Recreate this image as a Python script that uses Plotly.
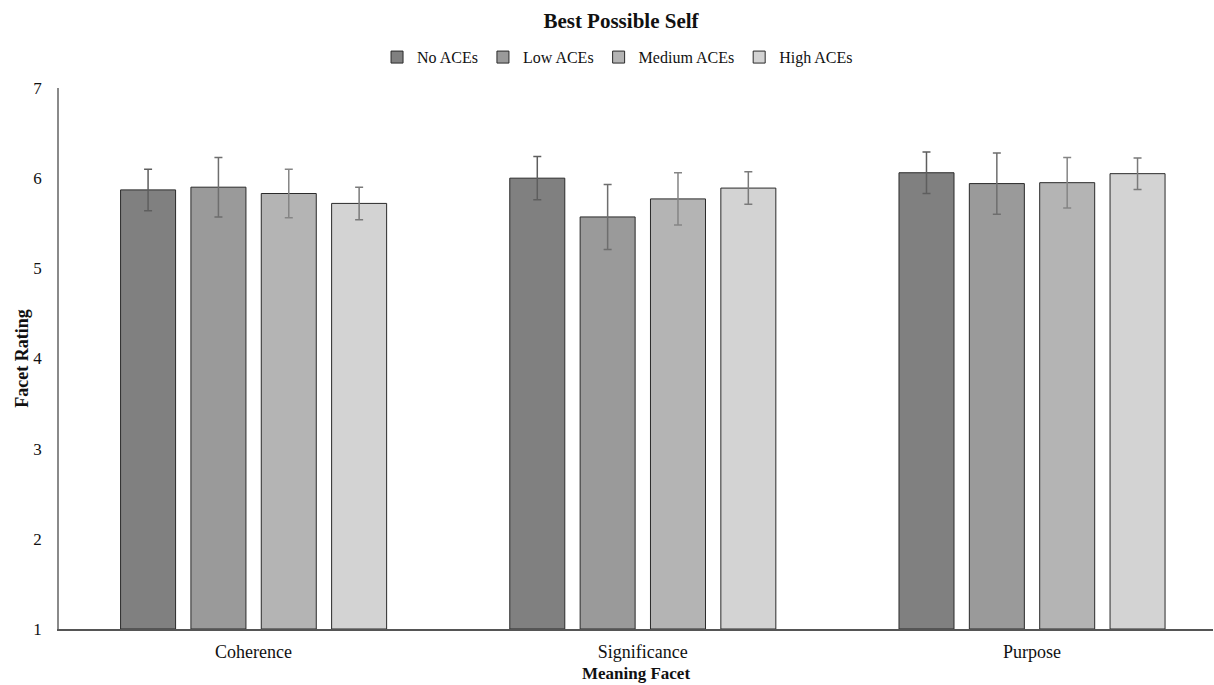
import plotly.graph_objects as go

# Meaning facets on the x axis
facets = ["Coherence", "Significance", "Purpose"]

# Mean facet ratings per ACE group
no_aces = [5.87, 6.00, 6.06]
low_aces = [5.90, 5.57, 5.94]
medium_aces = [5.83, 5.77, 5.95]
high_aces = [5.72, 5.89, 6.05]

# Error bar half-widths per ACE group
no_err = [0.23, 0.24, 0.23]
low_err = [0.33, 0.36, 0.34]
medium_err = [0.27, 0.29, 0.28]
high_err = [0.18, 0.18, 0.175]

group_names = ["No ACEs", "Low ACEs", "Medium ACEs", "High ACEs"]
group_values = [no_aces, low_aces, medium_aces, high_aces]
group_errors = [no_err, low_err, medium_err, high_err]
fill_colors = ["#808080", "#9a9a9a", "#b4b4b4", "#d3d3d3"]
err_colors = ["#5e5e5e", "#6e6e6e", "#858585", "#7a7a7a"]

SERIF = "Liberation Serif, Times New Roman, serif"
INK = "#111111"

fig = go.Figure()
for name, vals, errs, fc, ec in zip(group_names, group_values, group_errors, fill_colors, err_colors):
    fig.add_trace(go.Bar(
        name=name,
        x=facets,
        y=[v - 1 for v in vals],
        base=1,
        marker=dict(color=fc, line=dict(color="#2a2a2a", width=1)),
        error_y=dict(type="data", array=errs, visible=True,
                     color=ec, thickness=1.5, width=4),
        hoverinfo="skip",
    ))

fig.update_layout(
    width=1214, height=685,
    margin=dict(l=59, r=1, t=88, b=56),
    paper_bgcolor="white", plot_bgcolor="white",
    barmode="group", bargap=0.277, bargroupgap=0.218,
    font=dict(family=SERIF, size=16, color=INK),
    title=dict(text="<b>Best Possible Self</b>", x=0.5115, xanchor="center",
               y=0.97, yanchor="middle", font=dict(family=SERIF, size=21, color=INK)),
    legend=dict(orientation="h", x=0.484, xanchor="center", y=1.057, yanchor="middle",
                font=dict(family=SERIF, size=16, color=INK),
                itemwidth=30, tracegroupgap=0, traceorder="normal"),
    xaxis=dict(range=[-0.5, 2.465], showline=True, linecolor="#555555", linewidth=1.5,
               ticks="", ticklabelstandoff=6,
               tickfont=dict(family=SERIF, size=18, color=INK),
               title=dict(text="<b>Meaning Facet</b>", standoff=6,
                          font=dict(family=SERIF, size=17, color=INK))),
    yaxis=dict(range=[1, 7], dtick=1, showgrid=False, zeroline=False,
               showline=True, linecolor="#8a8a8a", linewidth=1.5, ticks="",
               ticklabelstandoff=12,
               tickfont=dict(family=SERIF, size=17, color=INK),
               title=dict(text="<b>Facet Rating</b>", standoff=0,
                          font=dict(family=SERIF, size=18, color=INK))),
)

fig.write_html("out.html")
